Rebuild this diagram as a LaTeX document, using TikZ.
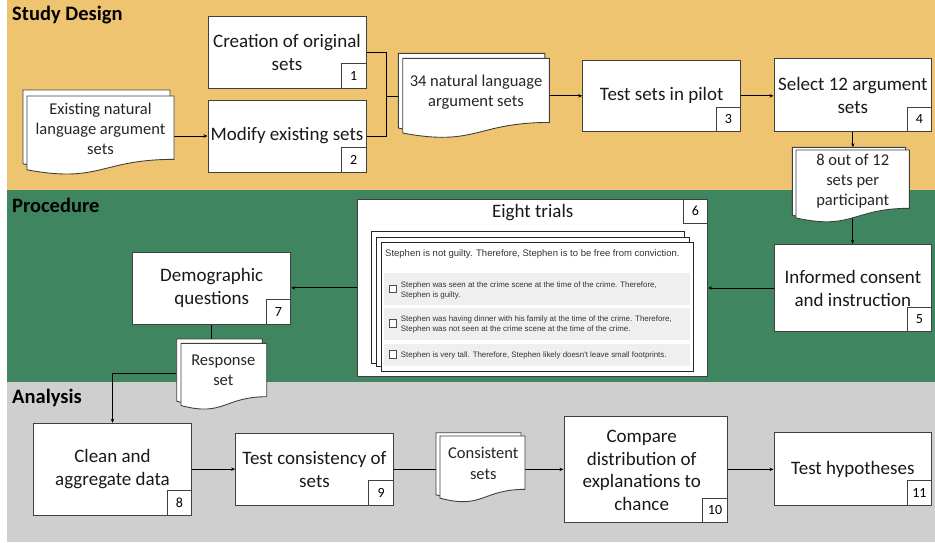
\documentclass[tikz,border=0pt]{standalone}
\usepackage{fontspec}
\setmainfont{Carlito}
\newfontfamily\arialf{Liberation Sans}
\usetikzlibrary{arrows.meta,calc}
\pgfdeclarelayer{bands}
\pgfdeclarelayer{lines}
\pgfsetlayers{bands,lines,main}

\definecolor{tanband}{HTML}{EEC470}
\definecolor{greenband}{HTML}{3F855F}
\definecolor{greyband}{HTML}{CFCFCF}
\definecolor{edge}{HTML}{404040}
\definecolor{optgrey}{HTML}{EFEFEF}
\definecolor{txtgrey}{HTML}{333333}

\tikzset{
 procbox/.style={draw=edge, line width=1pt, fill=white, inner sep=2pt, align=center, text=black!90, font=\fontsize{19}{23}\selectfont},
 numbox/.style={draw=edge, line width=1pt, fill=white, minimum width=24.5pt, minimum height=24.5pt, inner sep=0pt, font=\fontsize{14}{16}\selectfont},
 page/.style={draw=edge, line width=0.9pt, fill=white},
 trialpage/.style={draw=black!85, line width=0.8pt, fill=white},
 doctext/.style={align=center, text=black!85, font=\fontsize{16.5}{20}\selectfont, inner sep=0pt},
 arr/.style={draw=black, line width=0.9pt, -{Stealth[length=4pt,width=3.5pt]}},
 conn/.style={draw=black, line width=0.9pt},
 sectitle/.style={anchor=west, font=\fontsize{20.5}{24}\selectfont\bfseries, inner sep=0pt},
 ghost/.style={inner sep=0pt, outer sep=0pt, anchor=north west},
 opttext/.style={anchor=west, align=left, inner sep=0pt, text=txtgrey, font=\arialf\fontsize{7.9}{10.6}\selectfont},
 chk/.style={draw=black!70, line width=0.6pt, fill=white, minimum size=7.5pt, inner sep=0pt},
}

\newcommand\docpath[4]{%
 \path[page] ({#1},{#2}) -- ({#1+#3},{#2}) -- ({#1+#3},{#2+0.802*#4})
   .. controls ({#1+0.5*#3},{#2+0.802*#4}) and ({#1+0.5*#3},{#2+1.108*#4}) ..
   ({#1},{#2+0.934*#4}) -- cycle;
}
\newcommand\mdoc[7]{%
 \docpath{#2+#6}{#3+#7}{#4}{#5}
 \docpath{#2}{#3}{#4}{#5}
 \node[ghost, minimum width=#4pt, minimum height=#5pt] (#1) at ({#2},{#3}) {};
 \node[ghost, minimum width=#4pt, minimum height=#5pt] (#1b) at ({#2+#6},{#3+#7}) {};
}

\begin{document}
\begin{tikzpicture}[x=1pt,y=-1pt]
\useasboundingbox (0,0) rectangle (935,542);

\begin{pgfonlayer}{bands}
 \fill[tanband] (7,0) rectangle (935,190);
 \fill[greenband] (7,190) rectangle (935,381.7);
 \fill[greyband] (7,381.7) rectangle (935,542);
\end{pgfonlayer}

% section titles
\node[sectitle] (t1) at (12,15) {Study Design};
\node[sectitle] (t2) at (12,205) {Procedure};
\node[sectitle] (t3) at (12,398.3) {Analysis};

% study design boxes
\node[procbox, minimum width=158pt, minimum height=72pt] (b1) at (287,52) {Creation of original\\sets};
\node[numbox, anchor=south east] (n1) at (b1.south east) {1};
\node[procbox, minimum width=158pt, minimum height=72pt] (b2) at (287,136) {Modify existing sets};
\node[numbox, anchor=south east] (n2) at (b2.south east) {2};
\node[procbox, minimum width=158pt, minimum height=71.7pt] (b3) at (661.7,95.85) {Test sets in pilot};
\node[numbox, anchor=south east] (n3) at (b3.south east) {3};
\node[procbox, minimum width=157.7pt, minimum height=73.4pt] (b4) at (852.85,95) {Select 12 argument\\sets};
\node[numbox, anchor=south east] (n4) at (b4.south east) {4};

% documents
\mdoc{d1}{27}{96}{147}{79}{-4}{-6}
\node[doctext] (d1t) at (100.5,129) {Existing natural\\language argument\\sets};
\mdoc{dtf}{402.7}{58.3}{146.6}{80}{-4.4}{-5}
\node[doctext] (dtft) at (476,92) {34 natural language\\argument sets};
\mdoc{deight}{796}{150}{113.3}{72.7}{-3.7}{-2.7}
\node[doctext] (deightt) at (852.7,180.8) {8 out of 12\\sets per\\participant};

% procedure
\node[procbox, minimum width=157.7pt, minimum height=87.4pt] (b5) at (852.85,288) {Informed consent\\and instruction};
\node[numbox, anchor=south east] (n5) at (b5.south east) {5};

\node[procbox, minimum width=350.4pt, minimum height=177.7pt] (b6) at (532.5,287.85) {};
\node[numbox, anchor=north east] (n6) at (b6.north east) {6};
\node[inner sep=0pt, font=\fontsize{19}{23}\selectfont, text=black!90] (b6t) at (532.7,212.7) {Eight trials};

\draw[trialpage] (371,231) rectangle (684.3,363.3);
\draw[trialpage] (376,237.3) rectangle (689,366.7);
\draw[trialpage] (381,242.7) rectangle (693.7,371);
\node[anchor=west, inner sep=0pt, text=txtgrey, font=\arialf\fontsize{9.5}{11}\selectfont] (q0) at (385,254.3) {Stephen is not guilty. Therefore, Stephen is to be free from conviction.};
\fill[optgrey] (384.3,273.3) rectangle (690,305);
\fill[optgrey] (384.3,308.3) rectangle (690,340);
\fill[optgrey] (384.3,344) rectangle (690,365.7);
\node[chk] (c1) at (393,288.7) {};
\node[chk] (c2) at (393,323.3) {};
\node[chk] (c3) at (393,354.3) {};
\node[opttext] (o1) at (400.7,290.3) {Stephen was seen at the crime scene at the time of the crime. Therefore,\\Stephen is guilty.};
\node[opttext] (o2) at (400.7,324.3) {Stephen was having dinner with his family at the time of the crime. Therefore,\\Stephen was not seen at the crime scene at the time of the crime.};
\node[opttext] (o3) at (400.7,355) {Stephen is very tall. Therefore, Stephen likely doesn't leave small footprints.};

\node[procbox, minimum width=158pt, minimum height=71.7pt] (b7) at (211.7,288.15) {Demographic\\questions};
\node[numbox, anchor=south east] (n7) at (b7.south east) {7};

\mdoc{resp}{181}{343.3}{85.7}{66.6}{-4.3}{-4.3}
\node[doctext] (respt) at (223.3,370.7) {Response\\set};

% analysis
\node[procbox, minimum width=158.4pt, minimum height=91.7pt] (b8) at (112.5,469.15) {Clean and\\aggregate data};
\node[numbox, anchor=south east] (n8) at (b8.south east) {8};
\node[procbox, minimum width=157.6pt, minimum height=71.7pt] (b9) at (314.5,469.15) {Test consistency of\\sets};
\node[numbox, anchor=south east] (n9) at (b9.south east) {9};
\mdoc{cons}{440}{436}{85}{66.5}{-4}{-3.3}
\node[doctext, font=\fontsize{16.5}{21.3}\selectfont] (const) at (483.3,463.3) {Consistent\\sets};
\node[procbox, minimum width=163.3pt, minimum height=106.7pt] (b10) at (645.65,469.35) {};
\node[inner sep=0pt, align=center, text=black!90, font=\fontsize{19}{22.5}\selectfont] (b10t) at (641.7,470.2) {Compare\\distribution of\\explanations to\\chance};
\node[numbox, anchor=south east] (n10) at (b10.south east) {10};
\node[procbox, minimum width=157.7pt, minimum height=72.6pt] (b11) at (852.85,469) {Test hypotheses};
\node[numbox, anchor=south east] (n11) at (b11.south east) {11};

% connectors
\begin{pgfonlayer}{lines}
 \draw[arr] (d1.east |- b2.west) -- (b2.west);
 \coordinate (j) at (386,96);
 \draw[conn] (b1.east) -| (j);
 \draw[conn] (b2.east) -| (j);
 \draw[conn] (j) -- (dtfb.west |- j);
 \draw[arr] (dtf.east |- b3.west) -- (b3.west);
 \draw[arr] (b3.east) -- (b3.east -| b4.west);
 \draw[arr] (b4.south) -- (b4.south |- deightb.north);
 \draw[arr] (deight.center) -- (deight.center |- b5.north);
 \draw[arr] (b5.west) -- (b5.west -| b6.east);
 \draw[arr] (b6.west) -- (b6.west -| b7.east);
 \draw[conn] (b7.south) -- (b7.south |- resp.north);
 \draw[arr] ([yshift=3pt]resp.west) -| (b8.north);
 \draw[arr] (b8.east) -- (b8.east -| b9.west);
 \draw[conn] (b9.east) -- (b9.east -| cons.west);
 \draw[arr] (cons.east |- b10.west) -- (b10.west);
 \draw[arr] (b10.east) -- (b10.east -| b11.west);
\end{pgfonlayer}
\end{tikzpicture}
\end{document}
